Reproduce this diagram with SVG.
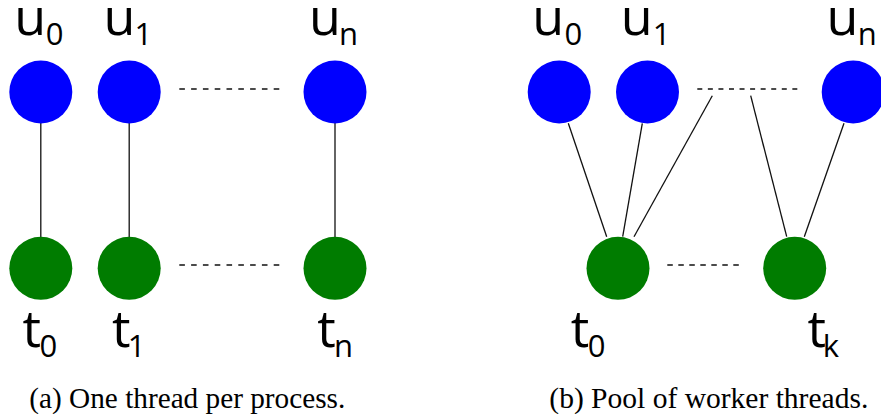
<svg xmlns="http://www.w3.org/2000/svg" width="881" height="414" viewBox="0 0 881 414">
<style>
.u{fill:#0000ff}
.t{fill:#007c00}
.lbl{font-family:"Open Sans","Noto Sans",sans-serif;font-size:52px;fill:#000;text-anchor:middle}
.sub{font-size:31px}
.edge{stroke:#111;stroke-width:1.3;fill:none}
.dash{stroke:#111;stroke-width:1.3;fill:none}
.cap{font-family:"Liberation Serif",serif;font-size:29px;fill:#000}
</style>
<rect width="881" height="414" fill="#fff"/>
<g id="connectors">
<line class="edge" x1="40.8" y1="123" x2="40.8" y2="237"/>
<line class="edge" x1="129.2" y1="123" x2="129.2" y2="237"/>
<line class="edge" x1="335" y1="123" x2="335" y2="237"/>
<line class="dash" x1="179.3" y1="89" x2="279.3" y2="89" stroke-dasharray="5.6 6.2"/>
<line class="dash" x1="179.3" y1="265" x2="279.3" y2="265" stroke-dasharray="5.6 6.2"/>
<line class="edge" x1="568.3" y1="123.3" x2="606.7" y2="236.7"/>
<line class="edge" x1="642.3" y1="123.3" x2="622.7" y2="236.7"/>
<line class="edge" x1="712.3" y1="95.7" x2="634" y2="236.7"/>
<line class="edge" x1="750.7" y1="95.7" x2="786.7" y2="236.7"/>
<line class="edge" x1="844" y1="123.3" x2="804.3" y2="236.7"/>
<line class="dash" x1="697.3" y1="89" x2="797.3" y2="89" stroke-dasharray="5 5.56"/>
<line class="dash" x1="667.3" y1="265" x2="740" y2="265" stroke-dasharray="5.5 5.5"/>
</g>
<g id="a-u0"><circle class="u" cx="40.8" cy="92" r="31.5"/><text class="lbl"><tspan x="30.3" y="35">u</tspan><tspan class="sub" x="54.5" y="45">0</tspan></text></g>
<g id="a-u1"><circle class="u" cx="129.2" cy="92" r="31.5"/><text class="lbl"><tspan x="119.5" y="35">u</tspan><tspan class="sub" x="143.3" y="45">1</tspan></text></g>
<g id="a-un"><circle class="u" cx="335" cy="92" r="31.5"/><text class="lbl"><tspan x="325" y="35">u</tspan><tspan class="sub" x="348.5" y="45">n</tspan></text></g>
<g id="a-t0"><circle class="t" cx="40.8" cy="268.3" r="31.5"/><text class="lbl"><tspan x="31.7" y="346.5">t</tspan><tspan class="sub" x="48.3" y="356.5">0</tspan></text></g>
<g id="a-t1"><circle class="t" cx="129.2" cy="268.3" r="31.5"/><text class="lbl"><tspan x="121.3" y="346.5">t</tspan><tspan class="sub" x="136.5" y="356.5">1</tspan></text></g>
<g id="a-tn"><circle class="t" cx="335" cy="268.3" r="31.5"/><text class="lbl"><tspan x="326.5" y="346.5">t</tspan><tspan class="sub" x="343.5" y="356.5">n</tspan></text></g>
<g id="b-u0"><circle class="u" cx="559.2" cy="92" r="31.5"/><text class="lbl"><tspan x="548.3" y="35">u</tspan><tspan class="sub" x="573.3" y="45">0</tspan></text></g>
<g id="b-u1"><circle class="u" cx="647.5" cy="92" r="31.5"/><text class="lbl"><tspan x="636.7" y="35">u</tspan><tspan class="sub" x="661.7" y="45">1</tspan></text></g>
<g id="b-un"><circle class="u" cx="853.2" cy="92" r="31.5"/><text class="lbl"><tspan x="842.5" y="35">u</tspan><tspan class="sub" x="867.2" y="45">n</tspan></text></g>
<g id="b-t0"><circle class="t" cx="618" cy="268.3" r="31.5"/><text class="lbl"><tspan x="580" y="346.5">t</tspan><tspan class="sub" x="596.7" y="356.5">0</tspan></text></g>
<g id="b-tk"><circle class="t" cx="794.7" cy="268.3" r="31.5"/><text class="lbl"><tspan x="816.7" y="346.5">t</tspan><tspan class="sub" x="830.8" y="356.5">k</tspan></text></g>
<text class="cap" x="29.3" y="407.5" textLength="316" lengthAdjust="spacingAndGlyphs">(a) One thread per process.</text>
<text class="cap" x="549.3" y="407.5" textLength="319" lengthAdjust="spacingAndGlyphs">(b) Pool of worker threads.</text>
</svg>
